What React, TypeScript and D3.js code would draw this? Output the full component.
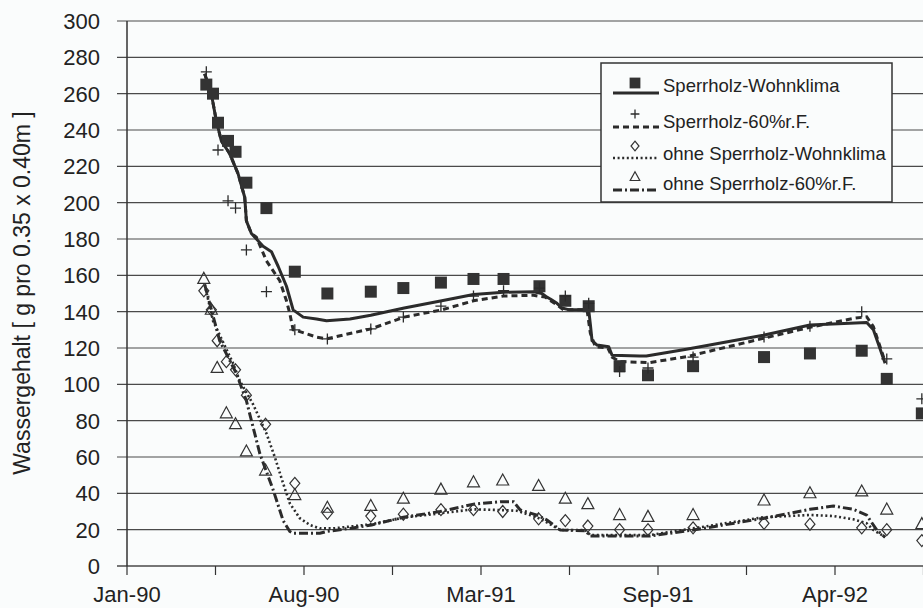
import React from "react";
import * as d3 from "d3";

// ---------- DATA ----------
// days since 1 Jan 1990
const messTageMit = [95,103,109,121,130,143,167,201,240,292,331,376,415,451,494,525,553,590,624,678,763,818,880,910,952];
const sperrWohnMess = [265,260,244,234,228,211,197,162,150,151,153,156,158,158,154,146,143,110,105,110,115,117,118.5,103,84];
const sperr60Mess = [272,null,229,201,197,174,151,130,125,130.5,137,143,148.6,151.5,153,148.6,144.6,107,109,115,126,132,140,114,92];

const messTageOhne = [92,101,108,119,130,143,166,201,240,292,331,376,415,450,493,525,552,590,624,678,763,818,880,910,952];
const ohneWohnMess = [151.5,141,124,112.5,108,94,78,45.5,29,27.5,28.5,31,31,30,26,25,22,20,20,21,23.5,23,21,20,14];
const ohne60Mess = [158,141,109,84,78,63,52.5,39,32,33,37,42,46,47,44,37,34,28,27,28,36,40,41,31,23];

const simSperrWohnTage = [93,101,107,113,123,133,141,143,149,163,173,181,191,199,211,227,239,267,292,332,377,415,451,487,497,503,507,515,521,530,553,555,557,563,577,581,614,622,670,762,818,886,894,908];
const simSperrWohnWerte = [271,260,245,234,227,216,203,190,183,176,173,165,154,141,137,136,135,136,138,142,146,149.5,150.7,151,150,148,147,144.6,142,141,141,133,124,121.6,120.7,116,115.6,115.6,119.3,127,132.7,134,130,111.6];

const simSperr60Tage = [93,101,107,113,123,133,141,143,149,155,167,183,191,195,199,207,227,239,267,292,332,377,415,451,487,501,515,523,551,555,561,576,581,590,626,670,762,818,870,886,894,908];
const simSperr60Werte = [271,260,245,234,227,216,203,190,183,181,168,157,146,139,130,129,126,125,128,130.5,137,141,146,148.6,149,148,143.7,141,141,128,120.7,120,115,112.5,112,115.2,125.3,131.4,136.3,137.2,131.7,112.5];

const simOhneWohnTage = [93,103,127,135,151,167,177,187,195,207,219,231,247,293,331,375,415,447,467,491,505,519,549,555,626,678,762,818,846,870,886,894,908];
const simOhneWohnWerte = [155,135,111.6,102,89,73,60,45.5,34.5,26.3,22.6,20.7,20.7,23,26.6,29,31.2,30.8,30.4,26.8,23.5,19.8,19.8,17,17,20.7,26.8,28.1,27.5,25.7,23.5,19.8,16];

const simOhne60Tage = [93,100,111,131,143,159,175,187,195,199,231,239,267,293,331,375,415,447,463,471,491,503,519,549,555,626,678,762,818,846,870,886,898,908];
const simOhne60Werte = [155,143,124,106,91,62,42,25,19,18,18,19,20.7,22.6,26.8,30,34,35.4,35.4,30.8,28,25.3,19.8,19.4,16.5,16.5,19.8,26.2,31.2,33,31.2,28,19.8,15.8];

const yTicks = [0,20,40,60,80,100,120,140,160,180,200,220,240,260,280,300];
const tickStepDays = 106;
const axisEndDays = 954;

const legendLabels = [
  "Sperrholz-Wohnklima",
  "Sperrholz-60%r.F.",
  "ohne Sperrholz-Wohnklima",
  "ohne Sperrholz-60%r.F.",
];
const yLabel = "Wassergehalt  [ g pro 0.35 x 0.40m ]";

// ---------- LAYOUT ----------
const W = 923, H = 608;
const X0 = 127, X1 = 923.5, Y0 = 566, Y1 = 21;
const BG = "#fafcfc";
const INK = "#2b2b2b";
const FONT = "'Liberation Sans', Arial, Helvetica, sans-serif";

const base = new Date(Date.UTC(1990, 0, 1));
const dayToDate = (d: number) => d3.utcDay.offset(base, d);

const x = d3.scaleUtc().domain([base, dayToDate(axisEndDays)]).range([X0, X1]);
const y = d3.scaleLinear().domain([0, 300]).range([Y0, Y1]);
const fmt = d3.utcFormat("%b-%y");

function linePath(days: number[], vals: number[]) {
  const pts = days.map((d, i) => [d, vals[i]] as [number, number]);
  return d3.line<[number, number]>()
    .x((p) => x(dayToDate(p[0])))
    .y((p) => y(p[1]))
    .curve(d3.curveLinear)(pts) as string;
}

const squarePath = (s: number) => `M${-s / 2},${-s / 2}h${s}v${s}h${-s}Z`;
const plusPath = (s: number) => `M${-s / 2},0H${s / 2}M0,${-s / 2}V${s / 2}`;
const diamondPath = (w: number, h: number) => `M0,${-h / 2}L${w / 2},0L0,${h / 2}L${-w / 2},0Z`;
const trianglePath = (w: number, h: number) => `M0,${-h * 0.6}L${w / 2},${h * 0.4}L${-w / 2},${h * 0.4}Z`;

type Kind = "square" | "plus" | "diamond" | "triangle";
function Marker({ kind, cx, cy, scale = 1 }: { kind: Kind; cx: number; cy: number; scale?: number }) {
  const t = `translate(${cx},${cy})`;
  if (kind === "square") return <path transform={t} d={squarePath(12 * scale)} fill="#333" />;
  if (kind === "plus") return <path transform={t} d={plusPath(11 * scale)} stroke={INK} strokeWidth={1.3} fill="none" />;
  if (kind === "diamond") return <path transform={t} d={diamondPath(10 * scale, 12 * scale)} stroke="#333" strokeWidth={1.2} fill="none" />;
  return <path transform={t} d={trianglePath(12 * scale, 11 * scale)} stroke="#333" strokeWidth={1.2} fill="none" />;
}

function MarkerSeries({ days, vals, kind }: { days: number[]; vals: (number | null)[]; kind: Kind }) {
  return (
    <g>
      {days.map((d, i) =>
        vals[i] == null ? null : (
          <Marker key={i} kind={kind} cx={x(dayToDate(d))} cy={y(vals[i] as number)} />
        )
      )}
    </g>
  );
}

const styles = {
  solid: { strokeWidth: 3, dash: undefined as string | undefined },
  dashed: { strokeWidth: 3, dash: "6,4" },
  dotted: { strokeWidth: 2.6, dash: "2,2.6" },
  dashdot: { strokeWidth: 3, dash: "9,3,2,3" },
};

export default function App() {
  const xTicks = d3.range(0, axisEndDays + 1, tickStepDays);
  const legendRows = [
    { label: legendLabels[0], kind: "square" as Kind, st: styles.solid, cy: 86, ly: 93, my: 83 },
    { label: legendLabels[1], kind: "plus" as Kind, st: styles.dashed, cy: 122, ly: 127, my: 114 },
    { label: legendLabels[2], kind: "diamond" as Kind, st: styles.dotted, cy: 154, ly: 158, my: 146 },
    { label: legendLabels[3], kind: "triangle" as Kind, st: styles.dashdot, cy: 184, ly: 190, my: 177 },
  ];
  return (
    <svg width={W} height={H} style={{ position: "absolute", left: 0, top: 0, background: BG }} fontFamily={FONT}>
      <rect x={0} y={0} width={W} height={H} fill={BG} />
      {/* grid lines */}
      {yTicks.map((t) => (
        <line key={t} x1={117} x2={W} y1={y(t)} y2={y(t)} stroke="#4a4a4a" strokeWidth={t === 0 ? 1.6 : 1.1} />
      ))}
      {/* y axis */}
      <line x1={X0} x2={X0} y1={Y1} y2={Y0} stroke="#333" strokeWidth={1.5} />
      {/* x ticks */}
      {xTicks.map((d) => (
        <line key={d} x1={x(dayToDate(d))} x2={x(dayToDate(d))} y1={Y0} y2={Y0 + 9} stroke="#333" strokeWidth={1.2} />
      ))}
      {xTicks.filter((d, i) => i % 2 === 0 && d < axisEndDays).map((d) => (
        <text key={d} x={x(dayToDate(d))} y={602} textAnchor="middle" fontSize={22} fill="#222">
          {fmt(dayToDate(d))}
        </text>
      ))}
      {/* y tick labels */}
      {yTicks.map((t) => (
        <text key={t} x={100} y={y(t)} dy="0.36em" textAnchor="end" fontSize={22} fill="#222">
          {t}
        </text>
      ))}
      {/* y label */}
      <text transform={`translate(30,${293}) rotate(-90)`} textAnchor="middle" fontSize={23} fill="#222">
        {yLabel}
      </text>

      {/* simulation lines */}
      <path d={linePath(simSperrWohnTage, simSperrWohnWerte)} fill="none" stroke={INK} strokeWidth={styles.solid.strokeWidth} strokeLinejoin="round" />
      <path d={linePath(simSperr60Tage, simSperr60Werte)} fill="none" stroke={INK} strokeWidth={styles.dashed.strokeWidth} strokeDasharray={styles.dashed.dash} />
      <path d={linePath(simOhneWohnTage, simOhneWohnWerte)} fill="none" stroke={INK} strokeWidth={styles.dotted.strokeWidth} strokeDasharray={styles.dotted.dash} />
      <path d={linePath(simOhne60Tage, simOhne60Werte)} fill="none" stroke={INK} strokeWidth={styles.dashdot.strokeWidth} strokeDasharray={styles.dashdot.dash} />

      {/* measurements */}
      <MarkerSeries days={messTageMit} vals={sperrWohnMess} kind="square" />
      <MarkerSeries days={messTageMit} vals={sperr60Mess} kind="plus" />
      <MarkerSeries days={messTageOhne} vals={ohneWohnMess} kind="diamond" />
      <MarkerSeries days={messTageOhne} vals={ohne60Mess} kind="triangle" />

      {/* legend */}
      <rect x={601} y={63} width={291} height={139} fill={BG} stroke="#333" strokeWidth={1.5} />
      {legendRows.map((r, i) => (
        <g key={i}>
          <line x1={613} x2={659} y1={r.ly} y2={r.ly} stroke={INK} strokeWidth={r.st.strokeWidth} strokeDasharray={r.st.dash} />
          <Marker kind={r.kind} cx={635} cy={r.my} scale={r.kind === "square" ? 0.9 : 0.8} />
          <text x={663} y={r.cy} dy="0.35em" fontSize={18.5} fill="#222">{r.label}</text>
        </g>
      ))}
    </svg>
  );
}
